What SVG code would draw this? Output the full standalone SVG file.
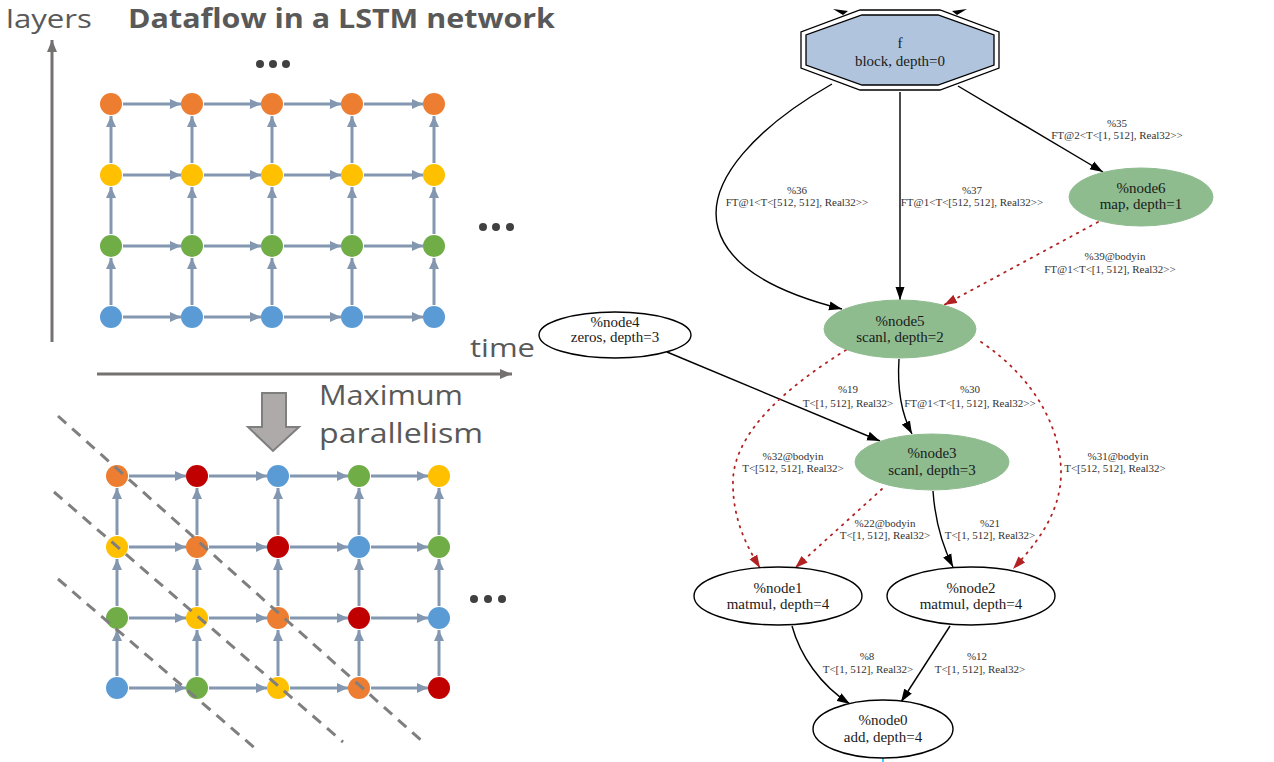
<svg xmlns="http://www.w3.org/2000/svg" width="1274" height="762" viewBox="0 0 1274 762">
<defs>
<style>
.lbl{font-family:"Open Sans","Noto Sans",sans-serif;fill:#595959}
.ga{stroke:#8497b0;stroke-width:3;fill:none;marker-end:url(#mg)}
.ax{stroke:#767171;stroke-width:3;fill:none;marker-end:url(#mx)}
.dl{stroke:#7f7f7f;stroke-width:3;stroke-dasharray:11,8;fill:none}
.dot{fill:#404040}
.o{fill:#ED7D31}.y{fill:#FFC000}.g{fill:#70AD47}.b{fill:#5B9BD5}.r{fill:#C00000}
.nt{font-family:"Liberation Serif","Times New Roman",serif;font-size:15px;fill:#1a1a1a;text-anchor:middle}
.et{font-family:"Liberation Serif","Times New Roman",serif;font-size:11px;fill:#333;text-anchor:middle}
.e{stroke:#000;stroke-width:1.4;fill:none;marker-end:url(#mb)}
.er{stroke:#b22222;stroke-width:1.8;stroke-dasharray:1.5,6;stroke-linecap:round;fill:none;marker-end:url(#mr)}
.wn{fill:#fff;stroke:#000;stroke-width:1.4}
.gn{fill:#8fbc8f;stroke:#8fbc8f}
</style>
<marker id="mg" markerUnits="userSpaceOnUse" markerWidth="11" markerHeight="10" refX="11" refY="5" orient="auto"><path d="M0,0 L11,5 L0,10 z" fill="#8497b0"/></marker>
<marker id="mx" markerUnits="userSpaceOnUse" markerWidth="12" markerHeight="10" refX="12" refY="5" orient="auto"><path d="M0,0 L12,5 L0,10 z" fill="#767171"/></marker>
<marker id="mb" markerUnits="userSpaceOnUse" markerWidth="13" markerHeight="10" refX="13" refY="5" orient="auto"><path d="M0,0.5 L13,5 L0,9.5 z" fill="#000"/></marker>
<marker id="mr" markerUnits="userSpaceOnUse" markerWidth="13" markerHeight="10" refX="13" refY="5" orient="auto"><path d="M0,0.5 L13,5 L0,9.5 z" fill="#b22222"/></marker>
</defs>
<rect width="1274" height="762" fill="#fff"/>

<g id="left-top">
<text class="lbl" x="6" y="28" font-size="26" textLength="86" lengthAdjust="spacingAndGlyphs">layers</text>
<text class="lbl" x="128" y="28" font-size="26" font-weight="bold" textLength="427" lengthAdjust="spacingAndGlyphs">Dataflow in a LSTM network</text>
<text class="lbl" x="470" y="357" font-size="26" textLength="65" lengthAdjust="spacingAndGlyphs">time</text>
<path class="ax" d="M52,342 L52,40"/>
<path class="ax" d="M97,374 L512,374"/>
<circle class="dot" cx="260" cy="64" r="4"/><circle class="dot" cx="273" cy="64" r="4"/><circle class="dot" cx="286" cy="64" r="4"/>
<circle class="dot" cx="483" cy="227" r="4"/><circle class="dot" cx="496" cy="227" r="4"/><circle class="dot" cx="510" cy="227" r="4"/>
<g id="grid1-arrows">
<path class="ga" d="M123,104 L181,104"/><path class="ga" d="M204,104 L261,104"/><path class="ga" d="M284,104 L341,104"/><path class="ga" d="M364,104 L423,104"/>
<path class="ga" d="M123,175 L181,175"/><path class="ga" d="M204,175 L261,175"/><path class="ga" d="M284,175 L341,175"/><path class="ga" d="M364,175 L423,175"/>
<path class="ga" d="M123,246 L181,246"/><path class="ga" d="M204,246 L261,246"/><path class="ga" d="M284,246 L341,246"/><path class="ga" d="M364,246 L423,246"/>
<path class="ga" d="M123,317 L181,317"/><path class="ga" d="M204,317 L261,317"/><path class="ga" d="M284,317 L341,317"/><path class="ga" d="M364,317 L423,317"/>
<path class="ga" d="M111,163 L111,116"/><path class="ga" d="M192,163 L192,116"/><path class="ga" d="M272,163 L272,116"/><path class="ga" d="M352,163 L352,116"/><path class="ga" d="M434,163 L434,116"/>
<path class="ga" d="M111,234 L111,187"/><path class="ga" d="M192,234 L192,187"/><path class="ga" d="M272,234 L272,187"/><path class="ga" d="M352,234 L352,187"/><path class="ga" d="M434,234 L434,187"/>
<path class="ga" d="M111,305 L111,258"/><path class="ga" d="M192,305 L192,258"/><path class="ga" d="M272,305 L272,258"/><path class="ga" d="M352,305 L352,258"/><path class="ga" d="M434,305 L434,258"/>
</g>
<g id="grid1-nodes">
<circle class="o" cx="111" cy="104" r="11"/><circle class="o" cx="192" cy="104" r="11"/><circle class="o" cx="272" cy="104" r="11"/><circle class="o" cx="352" cy="104" r="11"/><circle class="o" cx="434" cy="104" r="11"/>
<circle class="y" cx="111" cy="175" r="11"/><circle class="y" cx="192" cy="175" r="11"/><circle class="y" cx="272" cy="175" r="11"/><circle class="y" cx="352" cy="175" r="11"/><circle class="y" cx="434" cy="175" r="11"/>
<circle class="g" cx="111" cy="246" r="11"/><circle class="g" cx="192" cy="246" r="11"/><circle class="g" cx="272" cy="246" r="11"/><circle class="g" cx="352" cy="246" r="11"/><circle class="g" cx="434" cy="246" r="11"/>
<circle class="b" cx="111" cy="317" r="11"/><circle class="b" cx="192" cy="317" r="11"/><circle class="b" cx="272" cy="317" r="11"/><circle class="b" cx="352" cy="317" r="11"/><circle class="b" cx="434" cy="317" r="11"/>
</g>
</g>

<g id="left-bottom">
<path d="M262,393 L286,393 L286,427 L299,427 L273,451 L248,427 L262,427 Z" fill="#aeaaaa" stroke="#7f7f7f" stroke-width="2"/>
<text class="lbl" x="319" y="405" font-size="28" textLength="144" lengthAdjust="spacingAndGlyphs">Maximum</text>
<text class="lbl" x="319" y="443" font-size="28" textLength="164" lengthAdjust="spacingAndGlyphs">parallelism</text>
<circle class="dot" cx="474" cy="599" r="4"/><circle class="dot" cx="488" cy="599" r="4"/><circle class="dot" cx="502" cy="599" r="4"/>
<g id="grid2-arrows">
<path class="ga" d="M129,476 L186,476"/><path class="ga" d="M209,476 L267,476"/><path class="ga" d="M290,476 L348,476"/><path class="ga" d="M371,476 L428,476"/>
<path class="ga" d="M129,547 L186,547"/><path class="ga" d="M209,547 L267,547"/><path class="ga" d="M290,547 L348,547"/><path class="ga" d="M371,547 L428,547"/>
<path class="ga" d="M129,618 L186,618"/><path class="ga" d="M209,618 L267,618"/><path class="ga" d="M290,618 L348,618"/><path class="ga" d="M371,618 L428,618"/>
<path class="ga" d="M129,688 L186,688"/><path class="ga" d="M209,688 L267,688"/><path class="ga" d="M290,688 L348,688"/><path class="ga" d="M371,688 L428,688"/>
<path class="ga" d="M117,535 L117,488"/><path class="ga" d="M197,535 L197,488"/><path class="ga" d="M278,535 L278,488"/><path class="ga" d="M359,535 L359,488"/><path class="ga" d="M439,535 L439,488"/>
<path class="ga" d="M117,606 L117,559"/><path class="ga" d="M197,606 L197,559"/><path class="ga" d="M278,606 L278,559"/><path class="ga" d="M359,606 L359,559"/><path class="ga" d="M439,606 L439,559"/>
<path class="ga" d="M117,676 L117,630"/><path class="ga" d="M197,676 L197,630"/><path class="ga" d="M278,676 L278,630"/><path class="ga" d="M359,676 L359,630"/><path class="ga" d="M439,676 L439,630"/>
</g>
<g id="grid2-nodes">
<circle class="o" cx="117" cy="476" r="11"/><circle class="r" cx="197" cy="476" r="11"/><circle class="b" cx="278" cy="476" r="11"/><circle class="g" cx="359" cy="476" r="11"/><circle class="y" cx="439" cy="476" r="11"/>
<circle class="y" cx="117" cy="547" r="11"/><circle class="o" cx="197" cy="547" r="11"/><circle class="r" cx="278" cy="547" r="11"/><circle class="b" cx="359" cy="547" r="11"/><circle class="g" cx="439" cy="547" r="11"/>
<circle class="g" cx="117" cy="618" r="11"/><circle class="y" cx="197" cy="618" r="11"/><circle class="o" cx="278" cy="618" r="11"/><circle class="r" cx="359" cy="618" r="11"/><circle class="b" cx="439" cy="618" r="11"/>
<circle class="b" cx="117" cy="688" r="11"/><circle class="g" cx="197" cy="688" r="11"/><circle class="y" cx="278" cy="688" r="11"/><circle class="o" cx="359" cy="688" r="11"/><circle class="r" cx="439" cy="688" r="11"/>
</g>
<path class="dl" d="M58,416 L423,742"/>
<path class="dl" d="M54,492 L343,742"/>
<path class="dl" d="M58,579 L257,750"/>
</g>

<g id="connectors">
<path d="M833,9 L848,11 L843,15 Z M967,9 L952,11 L957,15 Z" fill="#000"/>
<path class="e" d="M832,84 C760,125 705,180 718,228 C730,272 790,296 842,309"/>
<text class="et" x="797" y="194">%36</text><text class="et" x="797" y="206">FT@1&lt;T&lt;[512, 512], Real32&gt;&gt;</text>
<path class="e" d="M900,92 L900,300"/>
<text class="et" x="972" y="194">%37</text><text class="et" x="972" y="206">FT@1&lt;T&lt;[512, 512], Real32&gt;&gt;</text>
<path class="e" d="M958,86 L1103,172"/>
<text class="et" x="1117" y="127">%35</text><text class="et" x="1117" y="139">FT@2&lt;T&lt;[1, 512], Real32&gt;&gt;</text>
<path class="er" d="M1098,222 L944,305"/>
<text class="et" x="1115" y="260">%39@bodyin</text><text class="et" x="1110" y="273">FT@1&lt;T&lt;[1, 512], Real32&gt;&gt;</text>
<path class="e" d="M667,352 L880,441"/>
<text class="et" x="848" y="393">%19</text><text class="et" x="848" y="407">T&lt;[1, 512], Real32&gt;</text>
<path class="e" d="M899,359 C897,390 902,415 912,434"/>
<text class="et" x="970" y="393">%30</text><text class="et" x="970" y="407">FT@1&lt;T&lt;[1, 512], Real32&gt;&gt;</text>
<path class="er" d="M846,350 C790,385 735,430 733,480 C732,520 748,548 760,568"/>
<text class="et" x="793" y="460">%32@bodyin</text><text class="et" x="793" y="472">T&lt;[512, 512], Real32&gt;</text>
<path class="er" d="M981,342 C1035,378 1062,430 1061,475 C1060,515 1035,545 1013,569"/>
<text class="et" x="1118" y="460">%31@bodyin</text><text class="et" x="1115" y="472">T&lt;[512, 512], Real32&gt;</text>
<path class="er" d="M882,489 L795,568"/>
<text class="et" x="885" y="527">%22@bodyin</text><text class="et" x="885" y="539">T&lt;[1, 512], Real32&gt;</text>
<path class="e" d="M933,491 C935,520 942,545 953,567"/>
<text class="et" x="990" y="527">%21</text><text class="et" x="990" y="539">T&lt;[1, 512], Real32&gt;</text>
<path class="e" d="M792,626 C800,655 820,685 850,704"/>
<text class="et" x="867" y="660">%8</text><text class="et" x="868" y="673">T&lt;[1, 512], Real32&gt;</text>
<path class="e" d="M950,626 L901,702"/>
<text class="et" x="977" y="660">%12</text><text class="et" x="980" y="673">T&lt;[1, 512], Real32&gt;</text>
<path d="M883,757 L883,762" stroke="#00bfff" stroke-width="1.5"/>
</g>

<g id="f">
<polygon points="860,10 940,10 999,32 999,68 940,90 860,90 801,68 801,32" fill="#fff" stroke="#000" stroke-width="1.3"/>
<polygon points="862,15 938,15 994,35 994,65 938,85 862,85 806,65 806,35" fill="#b0c4de" stroke="#000" stroke-width="1.3"/>
<text class="nt" x="900" y="48">f</text>
<text class="nt" x="900" y="66">block, depth=0</text>
</g>
<g id="node6">
<ellipse class="gn" cx="1141" cy="197" rx="72" ry="29"/>
<text class="nt" x="1141" y="193">%node6</text><text class="nt" x="1141" y="209">map, depth=1</text>
</g>
<g id="node5">
<ellipse class="gn" cx="900" cy="329" rx="76" ry="29"/>
<text class="nt" x="900" y="326">%node5</text><text class="nt" x="900" y="342">scanl, depth=2</text>
</g>
<g id="node4">
<ellipse class="wn" cx="615" cy="335" rx="76" ry="23"/>
<text class="nt" x="615" y="327">%node4</text><text class="nt" x="615" y="342">zeros, depth=3</text>
</g>
<g id="node3">
<ellipse class="gn" cx="932" cy="462" rx="77" ry="28"/>
<text class="nt" x="932" y="458">%node3</text><text class="nt" x="932" y="475">scanl, depth=3</text>
</g>
<g id="node1">
<ellipse class="wn" cx="778" cy="596" rx="84" ry="29"/>
<text class="nt" x="778" y="593">%node1</text><text class="nt" x="778" y="609">matmul, depth=4</text>
</g>
<g id="node2">
<ellipse class="wn" cx="971" cy="596" rx="84" ry="29"/>
<text class="nt" x="971" y="593">%node2</text><text class="nt" x="971" y="609">matmul, depth=4</text>
</g>
<g id="node0">
<ellipse class="wn" cx="883" cy="729" rx="70" ry="29"/>
<text class="nt" x="883" y="725">%node0</text><text class="nt" x="883" y="742">add, depth=4</text>
</g>
</svg>
